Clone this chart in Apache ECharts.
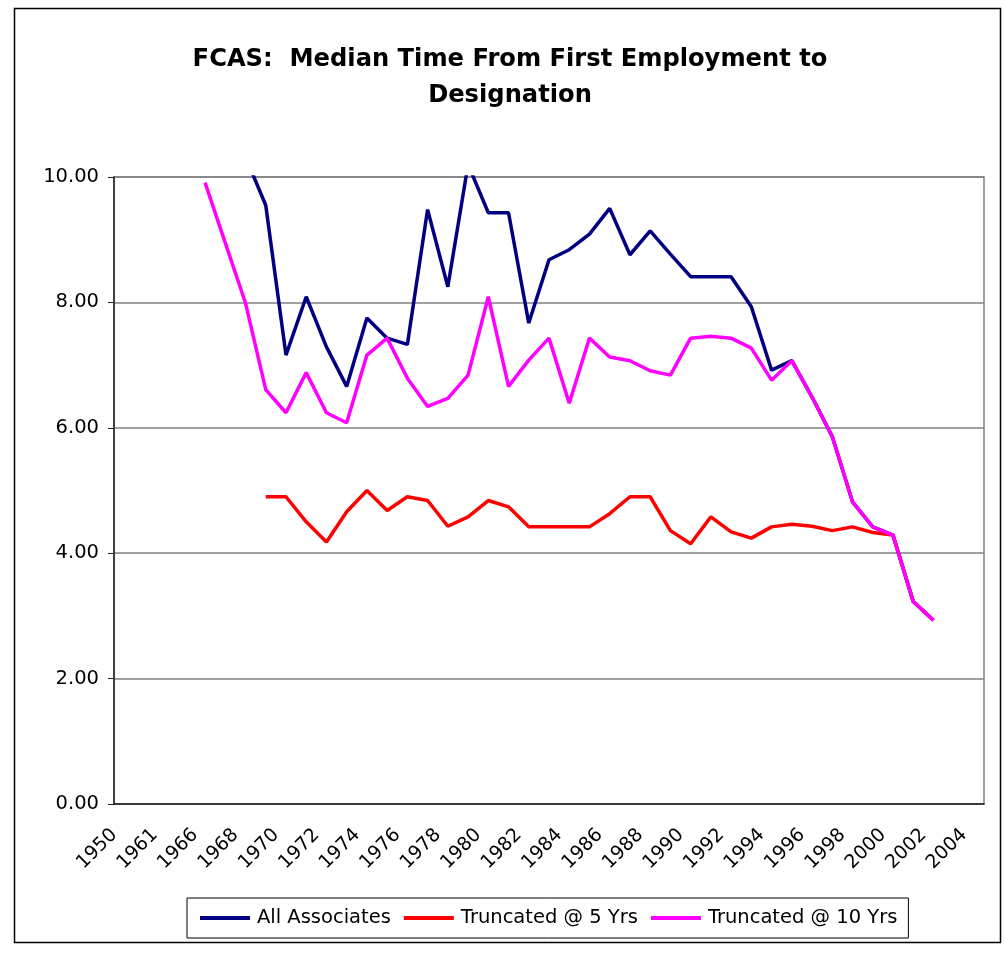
<!DOCTYPE html>
<html lang="en">
<head>
    <meta charset="UTF-8">
    <title>FCAS</title>
    <script src="https://cdn.jsdelivr.net/npm/echarts@6/dist/echarts.min.js"></script>
    <style type="text/css">
        html, body {
            margin: 0;
            padding: 0;
            background: #fff;
        }
        #main {
            width: 1005px;
            height: 956px;
        }
    </style>
</head>
<body>
<div id="main"></div>
<script type="text/javascript">
    // categories (every other one labelled)
    var years = ['1950', '1958', '1961', '1964', '1966', '1967', '1968', '1969', '1970', '1971',
        '1972', '1973', '1974', '1975', '1976', '1977', '1978', '1979', '1980', '1981',
        '1982', '1983', '1984', '1985', '1986', '1987', '1988', '1989', '1990', '1991',
        '1992', '1993', '1994', '1995', '1996', '1997', '1998', '1999', '2000', '2001',
        '2002', '2003', '2004'];

    var allAssociates = [null, null, null, null, null, null, 10.32, 9.55, 7.16, 8.09,
        7.29, 6.66, 7.75, 7.43, 7.33, 9.48, 8.25, 10.2, 9.43, 9.43,
        7.67, 8.68, 8.84, 9.09, 9.50, 8.76, 9.14, 8.77, 8.41, 8.41,
        8.41, 7.93, 6.92, 7.07, 6.49, 5.86, 4.82, 4.42, 4.29, 3.23,
        2.93, null, null];

    var truncated5 = [null, null, null, null, null, null, null, 4.90, 4.90, 4.50,
        4.18, 4.66, 5.00, 4.68, 4.90, 4.84, 4.43, 4.58, 4.84, 4.74,
        4.42, 4.42, 4.42, 4.42, 4.63, 4.90, 4.90, 4.36, 4.15, 4.58,
        4.34, 4.24, 4.42, 4.46, 4.43, 4.36, 4.42, 4.33, 4.29, 3.23,
        2.93, null, null];

    var truncated10 = [null, null, null, null, 9.91, 8.95, 7.99, 6.61, 6.24, 6.88,
        6.24, 6.08, 7.16, 7.43, 6.79, 6.34, 6.47, 6.84, 8.09, 6.66,
        7.08, 7.43, 6.39, 7.43, 7.13, 7.07, 6.91, 6.84, 7.43, 7.46,
        7.43, 7.27, 6.76, 7.07, 6.49, 5.86, 4.82, 4.42, 4.29, 3.23,
        2.93, null, null];

    var fontFamily = 'DejaVu Sans';

    var myChart = echarts.init(document.getElementById('main'));
    var option = {
        backgroundColor: '#fff',
        animation: false,
        title: {
            text: 'FCAS:  Median Time From First Employment to\nDesignation',
            left: 505,
            textAlign: 'center',
            top: 37,
            textStyle: {
                fontFamily: fontFamily,
                fontWeight: 'bold',
                fontSize: 24.2,
                lineHeight: 36,
                color: '#000'
            }
        },
        graphic: [
            {
                type: 'rect',
                shape: {x: 14.5, y: 8.5, width: 986, height: 934},
                style: {fill: 'none', stroke: '#000', lineWidth: 1.5},
                silent: true
            }
        ],
        legend: {
            left: 187,
            top: 898,
            padding: [10, 11, 10, 13],
            icon: 'rect',
            itemWidth: 50,
            itemHeight: 4,
            itemGap: 13,
            borderColor: '#000',
            borderWidth: 1,
            textStyle: {
                fontFamily: fontFamily,
                fontSize: 19.5,
                color: '#000',
                padding: [0, 0, 0, 2]
            },
            data: ['All Associates', 'Truncated @ 5 Yrs', 'Truncated @ 10 Yrs']
        },
        grid: {
            left: 114,
            top: 177,
            right: 21,
            bottom: 152,
            show: true,
            borderColor: '#808080',
            borderWidth: 1.5,
            backgroundColor: 'transparent'
        },
        xAxis: {
            type: 'category',
            data: years,
            boundaryGap: true,
            axisLine: {lineStyle: {color: '#222', width: 1.5}},
            axisTick: {interval: 0, length: 5, lineStyle: {color: '#222'}},
            axisLabel: {
                interval: 1,
                rotate: 45,
                margin: 18,
                padding: [0, 14, 0, 0],
                fontFamily: fontFamily,
                fontSize: 19,
                color: '#000'
            },
            splitLine: {show: false}
        },
        yAxis: {
            type: 'value',
            min: 0,
            max: 10,
            interval: 2,
            axisLine: {show: true, lineStyle: {color: '#222', width: 1.5}},
            axisTick: {show: true, length: 6, lineStyle: {color: '#222'}},
            axisLabel: {
                margin: 15,
                fontFamily: fontFamily,
                fontSize: 19.5,
                color: '#000',
                formatter: function (v) {
                    return v.toFixed(2);
                }
            },
            splitLine: {lineStyle: {color: '#808080', width: 1.5}}
        },
        series: [
            {
                name: 'All Associates',
                type: 'line',
                data: allAssociates,
                symbol: 'none',
                clip: true,
                lineStyle: {color: '#000080', width: 3.5},
                itemStyle: {color: '#000080'}
            },
            {
                name: 'Truncated @ 5 Yrs',
                type: 'line',
                data: truncated5,
                symbol: 'none',
                clip: true,
                lineStyle: {color: '#ff0000', width: 3.5},
                itemStyle: {color: '#ff0000'}
            },
            {
                name: 'Truncated @ 10 Yrs',
                type: 'line',
                data: truncated10,
                symbol: 'none',
                clip: true,
                lineStyle: {color: '#ff00ff', width: 3.5},
                itemStyle: {color: '#ff00ff'}
            }
        ]
    };
    myChart.setOption(option);
</script>
</body>
</html>
